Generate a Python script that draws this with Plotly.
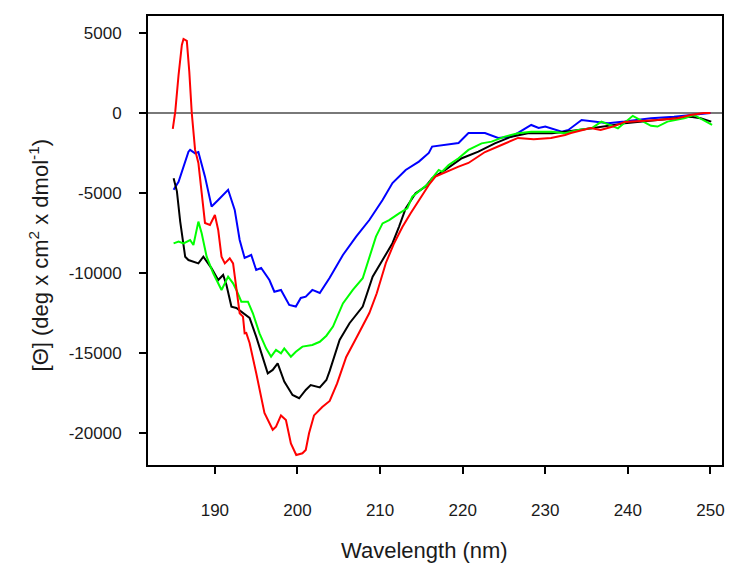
import plotly.graph_objects as go

# ---- data (wavelength in nm, molar ellipticity) ----
red_nm = [184.9, 185.2, 185.6, 186.0, 186.2, 186.6, 186.9, 187.2, 187.6, 188.0, 188.4, 188.8, 189.4, 190.0,
          190.4, 190.8, 191.2, 191.8, 192.2, 192.6, 193.0, 193.4, 193.6, 193.8, 194.2, 195.0, 196.0, 197.0,
          197.4, 198.0, 198.6, 199.2, 199.85, 200.6, 201.0, 201.4, 202.0, 203.0, 203.9, 204.8, 205.9, 207.2,
          208.7, 209.6, 210.7, 211.7, 212.7, 213.7, 214.7, 215.9, 216.7, 217.9, 219.5, 220.7, 221.9, 222.7,
          224.7, 226.7, 228.6, 230.7, 232.4, 233.1, 235.5, 236.7, 238.2, 239.6, 243.6, 246.0, 247.6, 249.2, 250.0]
red_val = [-1000, 80, 2375, 4250, 4625, 4500, 2580, 0, -2310, -3125, -5000, -6875, -7000, -6375,
           -7310, -8980, -9400, -9080, -9400, -11060, -12520, -12730, -13770, -13750, -14375, -16250, -18750, -19800,
           -19600, -18900, -19190, -20650, -21375, -21270, -21060, -20020, -18900, -18375, -18000, -16900, -15250, -13980,
           -12500, -11270, -9375, -8140, -7125, -6270, -5440, -4500, -3980, -3690, -3350, -3125, -2730, -2440,
           -2000, -1560, -1650, -1560, -1375, -1250, -940, -1060, -850, -560, -440, -330, -125, 0, 0]

blue_nm = [185.0, 185.6, 186.8, 187.0, 187.6, 188.0, 188.8, 189.6, 190.4, 191.6, 192.4, 193.0, 193.6, 194.4,
           195.0, 195.6, 196.6, 197.2, 198.0, 199.0, 199.8, 200.4, 201.0, 201.8, 202.7, 203.9, 205.5, 207.1,
           208.7, 210.3, 211.5, 213.1, 214.7, 215.9, 216.3, 219.5, 220.7, 222.7, 224.3, 225.9, 226.7, 228.3,
           229.2, 230.0, 232.0, 232.8, 234.4, 237.6, 239.6, 242.8, 245.6, 247.6, 250.0]
blue_val = [-4800, -4300, -2420, -2310, -2520, -2440, -3980, -5850, -5440, -4800, -6060, -7940, -9060, -8875,
            -9810, -9690, -10440, -11170, -11060, -12000, -12100, -11560, -11480, -11060, -11250, -10300, -8875, -7730,
            -6690, -5440, -4380, -3560, -3040, -2500, -2100, -1875, -1250, -1250, -1560, -1480, -1250, -750,
            -940, -850, -1170, -1060, -440, -640, -540, -330, -230, -125, 0]

black_nm = [185.0, 185.4, 185.8, 186.4, 186.8, 188.0, 188.6, 189.6, 190.4, 191.0, 191.4, 192.0, 192.6, 193.4,
            194.2, 195.0, 195.8, 196.4, 197.0, 197.6, 198.4, 199.4, 200.2, 201.0, 201.6, 202.7, 203.5, 203.9,
            205.1, 206.3, 207.9, 209.1, 210.3, 211.5, 212.3, 213.1, 214.3, 215.5, 216.3, 217.9, 219.9, 221.9,
            223.9, 225.9, 227.9, 230.8, 232.4, 235.6, 239.6, 243.6, 247.6, 248.8, 250.1]
black_val = [-4080, -4900, -6790, -8980, -9190, -9400, -8980, -9710, -10440, -10125, -10750, -12100, -12190, -12500,
             -12810, -13980, -15230, -16270, -16060, -15650, -16790, -17625, -17830, -17310, -17000, -17150, -16690, -16120,
             -14190, -13140, -12100, -10230, -9190, -8140, -7100, -5960, -5020, -4600, -4080, -3560, -2830, -2420,
             -1900, -1480, -1270, -1270, -1170, -960, -650, -440, -230, -330, -540]

green_nm = [185.0, 185.6, 186.2, 187.0, 187.4, 188.0, 188.4, 189.0, 189.8, 190.8, 191.2, 191.6, 192.2, 192.6,
            193.2, 194.0, 194.6, 195.4, 196.2, 196.8, 197.4, 198.0, 198.4, 199.2, 199.8, 200.6, 201.8, 202.7,
            203.5, 204.3, 205.5, 206.7, 207.9, 208.7, 209.5, 210.3, 211.1, 212.3, 213.3, 213.9, 215.1, 215.9,
            216.3, 217.1, 217.5, 218.3, 219.5, 220.7, 222.3, 223.5, 225.1, 226.7, 228.3, 230.8, 232.4, 234.0,
            235.6, 236.8, 238.8, 240.6, 242.8, 243.6, 244.8, 246.8, 248.0, 249.2, 250.2]
green_val = [-8150, -8040, -8150, -7940, -8250, -6790, -7520, -8980, -10020, -11060, -10650, -10230, -10650, -11060,
             -11790, -11790, -12520, -13770, -14710, -15230, -14810, -15020, -14710, -15230, -14920, -14600, -14500, -14300,
             -13920, -13350, -11900, -11060, -10330, -9080, -7730, -6900, -6690, -6270, -5960, -5230, -4710, -4400,
             -4080, -3560, -3670, -3250, -2830, -2310, -1900, -1790, -1480, -1270, -1170, -1170, -1270, -1060,
             -960, -540, -960, -180, -800, -850, -540, -330, -125, -440, -750]

x_ticks = [190, 200, 210, 220, 230, 240, 250]
x_labels = ["190", "200", "210", "220", "230", "240", "250"]
y_ticks = [5000, 0, -5000, -10000, -15000, -20000]
y_labels = ["5000", "0", "-5000", "-10000", "-15000", "-20000"]
x_title = "Wavelength (nm)"
y_title = "[Θ] (deg x cm<sup>2</sup> x dmol<sup>-1</sup>)"

fig = go.Figure()
# zero reference line
fig.add_trace(go.Scatter(x=[181.9, 251.4], y=[0, 0], mode="lines",
                         line=dict(color="#4d4d4d", width=1.5), hoverinfo="skip", showlegend=False))
for nm, val, col in [(blue_nm, blue_val, "#0000FF"), (black_nm, black_val, "#000000"),
                     (green_nm, green_val, "#00FF00"), (red_nm, red_val, "#FF0000")]:
    fig.add_trace(go.Scatter(x=nm, y=val, mode="lines", line=dict(color=col, width=2), showlegend=False))

font_main = "Liberation Sans, Arial, sans-serif"
fig.update_layout(
    width=734, height=565,
    margin=dict(l=148, r=9, t=16, b=100),
    paper_bgcolor="white", plot_bgcolor="white",
    font=dict(family=font_main, color="#1a1a1a"),
    xaxis=dict(range=[181.9, 251.4], tickvals=x_ticks, ticktext=x_labels, ticks="outside", ticklen=7,
               tickwidth=2, tickcolor="black", showline=True, linecolor="black", linewidth=2, mirror=True,
               showgrid=False, zeroline=False, tickfont=dict(size=17), ticklabelstandoff=22),
    yaxis=dict(range=[-22000, 6060], tickvals=y_ticks, ticktext=y_labels, ticks="outside", ticklen=7,
               tickwidth=2, tickcolor="black", showline=True, linecolor="black", linewidth=2, mirror=True,
               showgrid=False, zeroline=False, tickfont=dict(size=17), ticklabelstandoff=14),
    annotations=[
        dict(text=x_title, xref="paper", yref="paper", x=0.482, y=-0.1915, xanchor="center",
             yanchor="middle", showarrow=False, font=dict(size=22)),
        dict(text=y_title, xref="paper", yref="paper", x=-0.1906, y=0.468, xanchor="center",
             yanchor="middle", textangle=-90, showarrow=False, font=dict(size=22)),
    ],
)

fig.write_html("out.html")
